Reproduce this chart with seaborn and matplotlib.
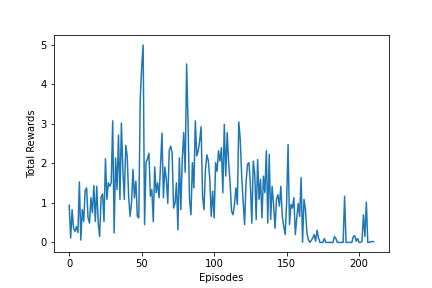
import matplotlib
matplotlib.use("Agg")
import matplotlib.pyplot as plt
import seaborn as sns
import numpy as np
import pandas as pd

rewards = [
    0.94, 0.11, 0.83, 0.36, 0.28, 0.40, 0.25, 1.53, 0.06,
    0.83, 0.53, 1.32, 1.38, 0.62, 0.49, 1.13, 0.75, 1.44, 0.53,
    1.42, 0.49, 0.15, 1.15, 1.23, 0.53, 2.12, 1.09, 1.51, 1.42,
    1.51, 3.08, 0.24, 2.14, 1.34, 2.72, 1.09, 3.02, 1.85, 1.09,
    2.46, 2.19, 1.17, 0.66, 1.00, 1.85, 1.13, 1.55, 0.66, 0.62,
    3.63, 4.44, 5.00, 0.45, 2.02, 2.12, 2.26, 1.17, 1.34, 0.53,
    1.91, 1.26, 1.51, 1.13, 1.98, 2.77, 1.13, 1.91, 1.60, 0.99,
    2.32, 2.44, 2.27, 0.87, 0.99, 1.51, 0.32, 2.14, 0.83, 2.10,
    2.78, 1.78, 4.52, 3.03, 1.09, 0.70, 2.02, 1.38, 3.08,
    2.19, 2.32, 2.57, 2.93, 1.17, 0.83, 1.85, 2.22, 2.06, 1.60,
    0.66, 1.30, 0.62, 2.02, 1.80, 2.32, 2.06, 2.40, 1.26, 2.99,
    1.68, 2.78, 2.02, 1.51, 0.79, 0.70, 0.96, 1.38, 0.96, 3.05,
    2.61, 1.68, 1.04, 0.45, 1.51, 1.98, 2.02, 1.47, 0.49, 2.06,
    1.74, 0.58, 2.10, 1.09, 1.60, 0.62, 1.68, 1.26, 2.32, 0.49,
    2.23, 0.58, 1.42, 0.96, 0.36, 1.09, 1.21, 0.92,
    1.42, 0.66, 0.41, 0.20, 1.00, 2.48, 0.45, 0.96, 0.87, 1.13,
    0.20, 0.62, 0.99, 0.66, 1.64, 0.00, 1.09, 0.83, 0.24, 0.07,
    0.00, 0.05, 0.11, 0.20, 0.03, 0.31, 0.11, 0.00, 0.00, 0.00,
    0.10, 0.00, 0.00, 0.00, 0.00, 0.00, 0.00, 0.15, 0.10, 0.00,
    0.00, 0.00, 0.00, 0.00, 1.17, 0.00, 0.00, 0.00, 0.00, 0.00,
    0.15, 0.17, 0.03, 0.10, 0.00, 0.00, 0.03, 0.70, 0.15, 1.02,
    0.00, 0.00, 0.02, 0.02, 0.02,
]
episodes = list(range(len(rewards)))

df = pd.DataFrame({"Episodes": episodes, "Total Rewards": rewards})

fig, ax = plt.subplots(figsize=(6, 4), dpi=72)
fig.subplots_adjust(left=0.125, right=0.9, top=0.878, bottom=0.124)
sns.lineplot(data=df, x="Episodes", y="Total Rewards", ax=ax, color="#1f77b4", linewidth=1.5)
ax.set_xlabel("Episodes")
ax.set_ylabel("Total Rewards")
fig.savefig("out.png", dpi=72)
